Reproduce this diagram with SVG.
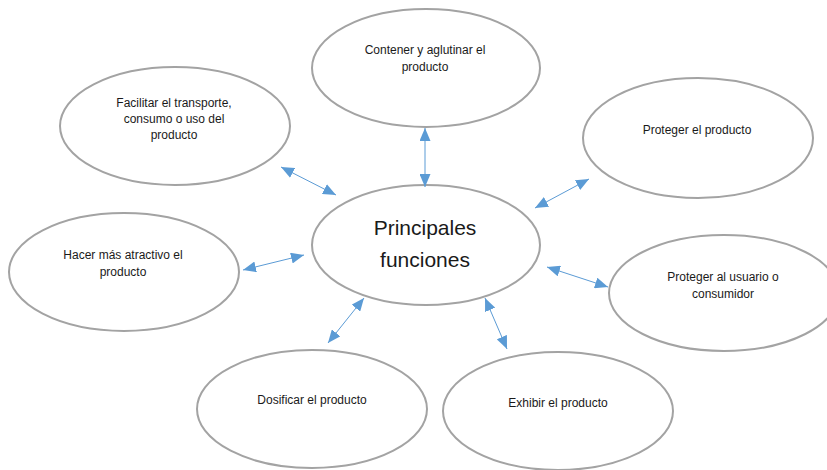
<svg xmlns="http://www.w3.org/2000/svg" width="827" height="470" viewBox="0 0 827 470">
  <style>
    .node ellipse { fill: #ffffff; stroke: #a3a3a3; stroke-width: 2; }
    .lbl { font-family: "Liberation Sans", Arial, sans-serif; font-size: 12px; fill: #1a1a1a; text-anchor: middle; }
    .big { font-size: 21px; }
    .link { stroke: #5b9bd5; stroke-width: 1; fill: none; marker-start: url(#head); marker-end: url(#head); }
  </style>
  <defs>
    <marker id="head" viewBox="0 0 13 11" refX="13" refY="5.5" markerWidth="13" markerHeight="11" markerUnits="userSpaceOnUse" orient="auto-start-reverse">
      <path d="M0,0 L13,5.5 L0,11 Z" fill="#5b9bd5"/>
    </marker>
  </defs>
  <rect width="827" height="470" fill="#ffffff"/>

  <g id="contener" class="node">
    <ellipse cx="426" cy="68" rx="114" ry="59"/>
    <text class="lbl" x="425" y="54">Contener y aglutinar el</text>
    <text class="lbl" x="425" y="71">producto</text>
  </g>

  <g id="facilitar" class="node">
    <ellipse cx="175" cy="126" rx="115" ry="59"/>
    <text class="lbl" x="174" y="107">Facilitar el transporte,</text>
    <text class="lbl" x="174" y="123">consumo o uso del</text>
    <text class="lbl" x="174" y="139">producto</text>
  </g>

  <g id="proteger-producto" class="node">
    <ellipse cx="698" cy="138" rx="115" ry="60"/>
    <text class="lbl" x="697" y="134">Proteger el producto</text>
  </g>

  <g id="atractivo" class="node">
    <ellipse cx="124" cy="272" rx="115" ry="59"/>
    <text class="lbl" x="123" y="259">Hacer más atractivo el</text>
    <text class="lbl" x="123" y="276">producto</text>
  </g>

  <g id="proteger-usuario" class="node">
    <ellipse cx="724" cy="293" rx="115" ry="58"/>
    <text class="lbl" x="723" y="281">Proteger al usuario o</text>
    <text class="lbl" x="723" y="298">consumidor</text>
  </g>

  <g id="dosificar" class="node">
    <ellipse cx="312" cy="409" rx="115" ry="59"/>
    <text class="lbl" x="312" y="404">Dosificar el producto</text>
  </g>

  <g id="exhibir" class="node">
    <ellipse cx="558" cy="411" rx="115" ry="59"/>
    <text class="lbl" x="558" y="407">Exhibir el producto</text>
  </g>

  <g id="principales" class="node">
    <ellipse cx="426" cy="245" rx="114" ry="60"/>
    <text class="lbl big" x="425" y="235">Principales</text>
    <text class="lbl big" x="425" y="267">funciones</text>
  </g>

  <g id="connectors">
    <line class="link" x1="425" y1="128" x2="425" y2="187"/>
    <line class="link" x1="281" y1="167" x2="336" y2="195"/>
    <line class="link" x1="589" y1="179" x2="535" y2="208"/>
    <line class="link" x1="243" y1="270" x2="304" y2="255"/>
    <line class="link" x1="547" y1="267" x2="608" y2="287"/>
    <line class="link" x1="364" y1="298" x2="328" y2="343"/>
    <line class="link" x1="485" y1="298" x2="507" y2="349"/>
  </g>
</svg>
